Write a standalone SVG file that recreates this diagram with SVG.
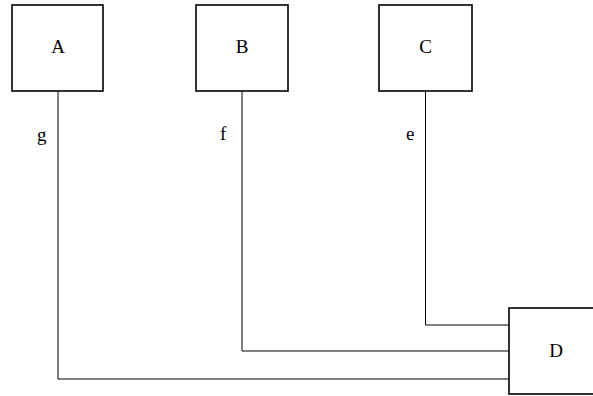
<svg xmlns="http://www.w3.org/2000/svg" width="593" height="396" viewBox="0 0 593 396">
<style>
.box{fill:#fff;stroke:#000;stroke-width:1.6}
.ln{fill:none;stroke:#000;stroke-width:1}
.t{font-family:'Liberation Serif','DejaVu Serif',serif;font-size:19px;fill:#000}
.c{text-anchor:middle}
</style>
<rect width="593" height="396" fill="#fff"/>
<g id="connectors">
<polyline class="ln" points="58,91 58,379 509,379"/>
<polyline class="ln" points="242,91 242,351 509,351"/>
<polyline class="ln" points="425.5,91 425.5,325 509,325"/>
<text class="t" font-family="Liberation Serif, serif" x="37" y="141">g</text>
<text class="t" font-family="Liberation Serif, serif" x="220" y="140">f</text>
<text class="t" font-family="Liberation Serif, serif" x="406" y="140">e</text>
</g>
<g id="A"><rect class="box" x="12" y="5" width="91" height="86"/><text class="t c" font-family="Liberation Serif, serif" x="58" y="53">A</text></g>
<g id="B"><rect class="box" x="196" y="5" width="92" height="86"/><text class="t c" font-family="Liberation Serif, serif" x="242" y="53">B</text></g>
<g id="C"><rect class="box" x="379" y="5" width="93" height="86"/><text class="t c" font-family="Liberation Serif, serif" x="425.5" y="53">C</text></g>
<g id="D"><rect class="box" x="509" y="308" width="100" height="86"/><text class="t c" font-family="Liberation Serif, serif" x="556" y="357">D</text></g>
</svg>
